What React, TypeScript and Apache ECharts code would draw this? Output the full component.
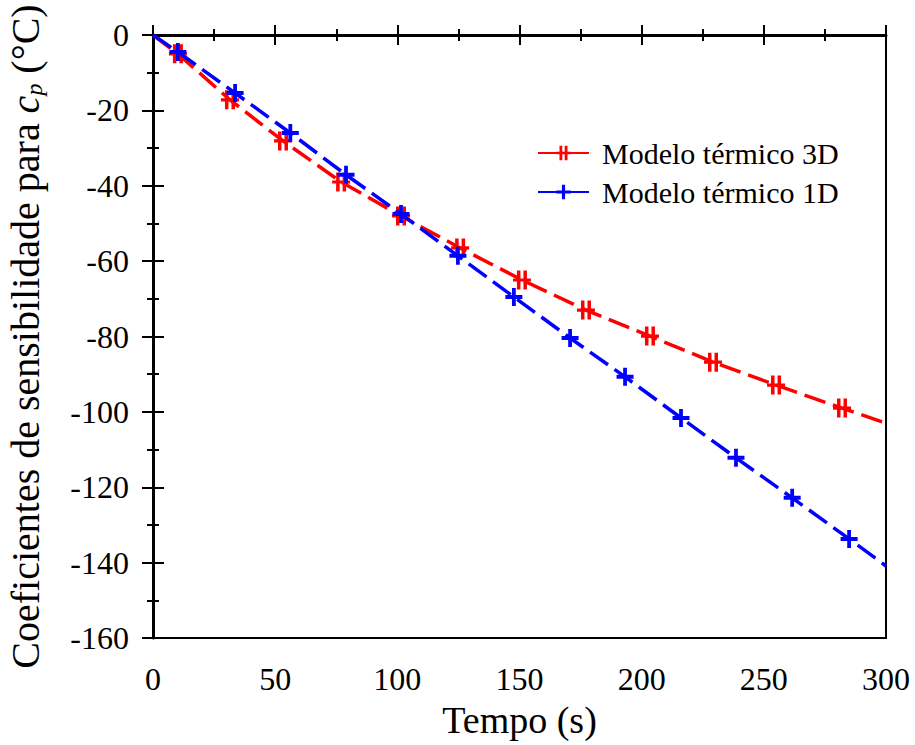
import React, { useEffect, useRef } from "react";
import * as echarts from "echarts";

const model3DName = "Modelo térmico 3D";
const model1DName = "Modelo térmico 1D";

// Marker positions (Tempo in s, coefficient in °C)
const time3D = [10.2, 31.5, 53.2, 77.0, 101.5, 125.7, 151.0, 177.2, 203.4, 229.2, 255.0, 282.0];
const coef3D = [-5.0, -17.2, -28.1, -39.0, -48.0, -56.5, -65.0, -73.0, -79.9, -86.8, -92.9, -99.0];
const end3D = -103.0;

const time1D = [10.2, 33.6, 56.2, 79.0, 101.5, 124.8, 147.7, 170.7, 193.2, 216.1, 238.6, 261.6, 284.9];
const coef1D = [-4.5, -15.4, -26.0, -37.1, -47.5, -58.6, -69.5, -80.4, -90.7, -101.6, -112.2, -122.8, -133.7];
const end1D = -140.9;

const xTicks = { min: 0, max: 300, interval: 50 };
const yTicks = { min: -160, max: 0, interval: 20 };

const FONT = "Liberation Serif";

const doubleBar = "path://M4,0h3.5v18h-3.5z M10.5,0h3.5v18h-3.5z M0,7.5h18v3h-18z";
const plusMark = "path://M7,0h4v18h-4z M0,7h18v4h-18z";

function buildData(ts: number[], vs: number[], endV: number) {
  const d: any[] = [{ value: [0, 0], symbol: "none" }];
  ts.forEach((t, i) => d.push({ value: [t, vs[i]] }));
  d.push({ value: [300, endV], symbol: "none" });
  return d;
}

export default function App() {
  const ref = useRef<HTMLDivElement>(null);
  useEffect(() => {
    if (!ref.current) return;
    const chart = echarts.init(ref.current, null, { renderer: "svg" });
    const axisCommon = {
      type: "value" as const,
    };
    chart.setOption({
      animation: false,
      backgroundColor: "#fff",
      textStyle: { fontFamily: FONT },
      grid: {
        left: 153,
        right: 29,
        top: 35,
        bottom: 107,
        containLabel: false,
        outerBoundsMode: "none",
        show: true,
        borderColor: "#000",
        borderWidth: 2,
      },
      legend: {
        orient: "vertical",
        left: 532,
        top: 133,
        itemWidth: 51,
        itemHeight: 18,
        itemGap: 9,
        textStyle: { fontFamily: FONT, fontSize: 30, color: "#000", lineHeight: 30, padding: [0, 0, 0, 8] },
        data: [model3DName, model1DName],
      },
      xAxis: [
        {
          ...axisCommon,
          position: "bottom",
          min: xTicks.min,
          max: xTicks.max,
          interval: xTicks.interval,
          name: "Tempo (s)",
          nameLocation: "middle",
          nameGap: 63,
          nameTextStyle: { fontFamily: FONT, fontSize: 38, color: "#000" },
          axisLine: { show: true, lineStyle: { color: "#000", width: 3 } },
          axisTick: { show: true, inside: false, length: 10, lineStyle: { color: "#000", width: 2 } },
          minorTick: { show: true, splitNumber: 2, length: 6, lineStyle: { color: "#000", width: 2 } },
          axisLabel: { fontFamily: FONT, fontSize: 32, color: "#000", margin: 25 },
          splitLine: { show: false },
        },
        {
          ...axisCommon,
          position: "bottom",
          min: xTicks.min,
          max: xTicks.max,
          interval: xTicks.interval,
          axisLine: { show: false },
          axisTick: { show: true, inside: true, length: 10, lineStyle: { color: "#000", width: 2 } },
          minorTick: { show: true, splitNumber: 2, length: 6, lineStyle: { color: "#000", width: 2 } },
          axisLabel: { show: false },
          splitLine: { show: false },
        },
      ],
      yAxis: [
        {
          ...axisCommon,
          position: "left",
          min: yTicks.min,
          max: yTicks.max,
          interval: yTicks.interval,
          name: "{a|Coeficientes de sensibilidade para }{c|c}{p|p}{a| (°C)}",
          nameLocation: "middle",
          nameGap: 107,
          nameTextStyle: {
            fontFamily: FONT,
            fontSize: 40,
            color: "#000",
            rich: {
              a: { fontFamily: FONT, fontSize: 40, color: "#000" },
              c: { fontFamily: FONT, fontSize: 40, color: "#000", fontStyle: "italic" },
              p: { fontFamily: FONT, fontSize: 24, color: "#000", fontStyle: "italic", padding: [18, 0, 0, 0] },
            },
          },
          axisLine: { show: true, lineStyle: { color: "#000", width: 3 } },
          axisTick: { show: true, inside: false, length: 11, lineStyle: { color: "#000", width: 2 } },
          minorTick: { show: true, splitNumber: 2, length: 6, lineStyle: { color: "#000", width: 2 } },
          axisLabel: { fontFamily: FONT, fontSize: 32, color: "#000", margin: 24 },
          splitLine: { show: false },
        },
        {
          ...axisCommon,
          position: "left",
          min: yTicks.min,
          max: yTicks.max,
          interval: yTicks.interval,
          axisLine: { show: false },
          axisTick: { show: true, inside: true, length: 11, lineStyle: { color: "#000", width: 2 } },
          minorTick: { show: true, splitNumber: 2, length: 6, lineStyle: { color: "#000", width: 2 } },
          axisLabel: { show: false },
          splitLine: { show: false },
        },
      ],
      series: [
        {
          name: model3DName,
          type: "line",
          xAxisIndex: 0,
          yAxisIndex: 0,
          data: buildData(time3D, coef3D, end3D),
          symbol: doubleBar,
          symbolSize: [18, 19],
          showAllSymbol: true,
          color: "#ff0000",
          itemStyle: { color: "#ff0000" },
          lineStyle: { color: "#ff0000", width: 3.5, type: [22, 8] },
          z: 2,
        },
        {
          name: model1DName,
          type: "line",
          xAxisIndex: 0,
          yAxisIndex: 0,
          data: buildData(time1D, coef1D, end1D),
          symbol: plusMark,
          symbolSize: [17, 18],
          showAllSymbol: true,
          color: "#0000ff",
          itemStyle: { color: "#0000ff" },
          lineStyle: { color: "#0000ff", width: 3.5, type: [22, 8] },
          z: 3,
        },
      ],
    });
    return () => chart.dispose();
  }, []);
  return (
    <div
      ref={ref}
      style={{ position: "fixed", left: 0, top: 0, width: 915, height: 745, background: "#fff" }}
    />
  );
}
